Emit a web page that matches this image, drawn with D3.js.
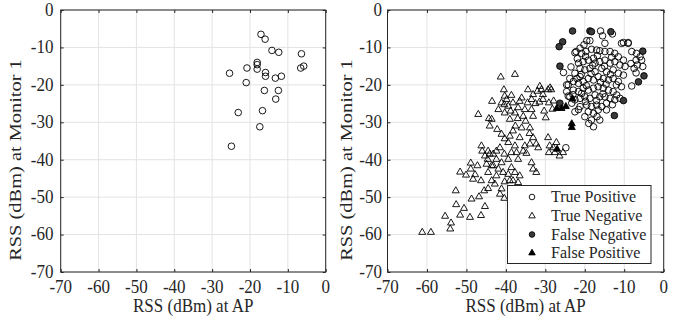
<!DOCTYPE html>
<html><head><meta charset="utf-8">
<script src="https://cdn.jsdelivr.net/npm/d3@7"></script>
<style>body{margin:0;background:#fff}svg{display:block}text{font-family:"Liberation Serif","Times New Roman",serif !important;fill:#262626}</style>
</head><body><svg id="c" width="689" height="320"></svg>
<script>
const ticks = [-70,-60,-50,-40,-30,-20,-10,0];
const tickLabels = ["-70","-60","-50","-40","-30","-20","-10","0"];
const xLabel = "RSS (dBm) at AP";
const yLabel = "RSS (dBm) at Monitor 1";
const legendLabels = ["True Positive","True Negative","False Negative","False Positive"];

// left panel: detected points
const leftPoints = [[-17.1,-6.5],[-16.0,-7.8],[-14.2,-10.8],[-12.4,-11.3],[-6.4,-11.7],[-18.1,-14.0],[-18.1,-14.6],[-18.1,-15.8],[-20.8,-15.5],[-25.4,-16.9],[-15.9,-16.7],[-15.9,-17.7],[-13.3,-18.2],[-11.7,-17.7],[-6.6,-15.5],[-5.8,-15.0],[-21.0,-19.4],[-16.2,-21.5],[-12.5,-21.5],[-13.2,-23.8],[-23.1,-27.4],[-16.7,-26.9],[-17.4,-31.2],[-24.9,-36.4]];

const trueNegative = [[-61.2,-59.4],[-59.0,-59.4],[-55.4,-55.1],[-53.9,-56.9],[-54.1,-58.5],[-52.7,-48.3],[-52.6,-52.0],[-51.6,-43.3],[-51.6,-54.8],[-50.6,-53.0],[-50.1,-44.1],[-48.9,-40.9],[-48.9,-42.5],[-48.7,-50.5],[-49.1,-55.4],[-48.3,-45.2],[-47.8,-44.0],[-47.2,-41.6],[-46.8,-49.9],[-46.3,-54.9],[-46.3,-45.6],[-45.3,-52.5],[-46.0,-37.7],[-45.3,-39.0],[-44.6,-39.9],[-44.1,-38.5],[-43.6,-41.6],[-43.2,-38.5],[-47.0,-27.9],[-44.3,-29.0],[-43.6,-29.2],[-44.1,-31.0],[-43.5,-24.4],[-42.2,-31.9],[-41.9,-26.6],[-41.3,-17.9],[-41.1,-24.8],[-40.5,-21.3],[-40.3,-23.0],[-40.4,-25.3],[-40.3,-27.5],[-39.8,-23.9],[-39.4,-25.7],[-38.6,-22.8],[-37.7,-17.2],[-38.2,-24.8],[-39.0,-29.2],[-37.7,-27.5],[-37.6,-31.0],[-36.9,-26.1],[-36.5,-24.4],[-36.0,-23.5],[-35.6,-28.4],[-35.2,-26.6],[-35.0,-29.7],[-34.5,-24.8],[-34.4,-21.3],[-33.5,-23.9],[-33.1,-22.6],[-33.5,-26.6],[-33.9,-31.5],[-33.1,-28.4],[-32.0,-21.7],[-31.4,-20.4],[-31.0,-21.3],[-30.6,-23.9],[-30.3,-27.0],[-29.9,-28.8],[-30.6,-22.6],[-28.5,-21.3],[-29.1,-24.8],[-29.3,-21.3],[-28.8,-20.8],[-32.5,-25.0],[-31.5,-24.6],[-37.0,-29.0],[-38.8,-27.0],[-36.0,-31.5],[-34.0,-33.0],[-27.9,-24.3],[-28.2,-26.5],
[-46.2,-36.3],[-44.5,-37.7],[-42.4,-37.7],[-41.1,-33.2],[-40.3,-34.4],[-41.5,-36.8],[-40.4,-38.5],[-39.4,-35.4],[-39.4,-39.9],[-39.0,-33.7],[-38.6,-38.1],[-38.6,-42.1],[-38.2,-32.3],[-37.7,-36.3],[-37.3,-38.1],[-36.9,-39.9],[-36.5,-34.1],[-41.1,-40.8],[-41.9,-42.5],[-42.4,-44.3],[-40.7,-43.4],[-40.3,-45.9],[-39.4,-43.9],[-39.0,-45.6],[-40.4,-50.3],[-41.1,-47.8],[-41.5,-49.2],[-42.8,-46.5],[-43.6,-45.6],[-44.5,-43.4],[-44.5,-47.7],[-45.5,-48.3],[-44.9,-41.2],[-43.2,-41.6],[-42.4,-39.9],[-37.7,-43.4],[-36.9,-46.1],[-38.2,-45.6],[-36.5,-44.3],[-35.6,-37.7],[-35.2,-36.3],[-34.8,-38.3],[-33.5,-40.8],[-33.1,-42.5],[-32.3,-43.4],[-33.9,-35.8],[-33.1,-34.1],[-32.3,-35.8],[-31.8,-36.8],[-29.3,-34.1],[-28.9,-36.3],[-29.1,-38.1],[-28.0,-36.8],[-27.6,-38.1],[-27.2,-35.4],[-26.4,-39.0],[-25.5,-38.1]];

const truePositive = [[-16.0,-5.6],[-15.5,-6.9],[-13.0,-6.4],[-14.9,-8.9],[-18.7,-8.2],[-19.5,-8.2],[-20.2,-9.3],[-21.2,-10.2],[-22.2,-11.1],[-20.8,-11.6],[-19.7,-11.1],[-18.3,-10.5],[-17.0,-10.7],[-16.2,-10.9],[-14.9,-11.1],[-13.6,-11.1],[-12.4,-11.6],[-11.5,-12.5],[-10.2,-13.4],[-10.7,-8.9],[-9.0,-8.9],[-8.1,-11.1],[-6.9,-11.6],[-6.0,-12.5],[-7.0,-13.4],[-5.6,-13.4],[-6.7,-14.7],[-7.5,-15.6],[-5.3,-15.1],[-8.1,-20.3],[-21.6,-14.2],[-20.4,-13.8],[-19.1,-13.4],[-17.8,-12.9],[-17.4,-14.2],[-16.2,-13.8],[-14.9,-13.4],[-13.6,-14.2],[-12.4,-13.8],[-11.1,-14.7],[-9.8,-15.1],[-21.2,-15.6],[-20.0,-16.0],[-18.7,-15.6],[-17.4,-16.5],[-15.7,-15.6],[-14.5,-16.5],[-12.8,-16.0],[-11.5,-16.9],[-10.2,-17.4],[-22.5,-16.9],[-21.2,-17.8],[-23.8,-18.3],[-22.9,-19.1],[-21.6,-19.6],[-20.4,-19.1],[-19.1,-18.3],[-17.8,-18.7],[-16.6,-17.8],[-15.3,-18.3],[-14.0,-18.7],[-12.8,-18.3],[-11.5,-19.1],[-10.7,-20.5],[-24.2,-20.0],[-22.9,-21.4],[-21.6,-21.8],[-20.4,-20.9],[-19.1,-21.4],[-17.8,-20.9],[-16.6,-20.5],[-15.3,-20.9],[-14.0,-21.4],[-12.8,-21.8],[-11.9,-22.7],[-11.1,-23.6],[-12.4,-24.0],[-13.6,-23.6],[-14.9,-23.2],[-16.2,-23.2],[-17.4,-22.7],[-18.7,-23.6],[-20.0,-23.2],[-21.2,-23.6],[-22.5,-24.0],[-23.3,-24.9],[-21.2,-25.8],[-19.5,-25.4],[-18.3,-25.8],[-17.0,-25.4],[-15.7,-25.8],[-14.5,-24.9],[-19.1,-27.2],[-17.8,-27.6],[-16.6,-26.7],[-20.0,-28.5],[-18.3,-29.4],[-17.8,-31.2],[-16.2,-29.4],[-14.5,-26.7],[-22.5,-27.2],[-24.6,-21.8],[-23.8,-23.2],[-20.8,-22.3],[-25.4,-16.7],[-24.6,-20.0],[-22.5,-11.4],[-24.8,-36.8],[-24.2,-23.0],[-10.2,-8.7],[-9.0,-8.7],
[-19.8,-12.4],[-16.8,-12.2],[-13.2,-12.6],[-18.0,-14.8],[-15.0,-15.0],[-20.9,-17.2],[-13.5,-17.2],[-18.4,-17.0],[-22.0,-18.3],[-16.0,-19.3],[-12.0,-20.0],[-19.6,-20.2],[-14.6,-19.8],[-23.0,-22.6],[-17.0,-24.2],[-19.8,-24.4],[-15.4,-22.4],[-13.0,-25.3],[-21.6,-26.6],[-16.9,-28.5],[-19.0,-30.3],[-23.5,-15.2],[-21.9,-13.0],[-8.3,-14.3],[-7.0,-16.8]];

const falseNegative = [[-23.1,-5.6],[-18.7,-5.6],[-18.3,-5.8],[-13.4,-5.8],[-25.6,-8.5],[-26.5,-9.8],[-26.3,-15.0],[-5.3,-11.0],[-5.0,-17.6],[-6.4,-19.2],[-10.2,-24.2],[-12.5,-28.2],[-26.3,-24.9]];

const falsePositive = [[-23.1,-23.8],[-23.3,-30.4],[-23.3,-31.4],[-27.1,-26.3],[-25.9,-26.3],[-24.8,-25.8],[-27.0,-37.2]];

const svg = d3.select("#c");
const y = d3.scaleLinear().domain([-70,0]).range([272,10]);
const xL = d3.scaleLinear().domain([-70,0]).range([60.7,325.7]);
const xR = d3.scaleLinear().domain([-70,0]).range([387.5,663.7]);
const FS = 17, LFS = 16, SY = 1.08;
const FF = "Liberation Serif";

function hText(g, x, yy, str, anchor, fs) {
  return g.append("text").attr("transform",`translate(${x},${yy}) scale(1,${SY})`)
    .attr("text-anchor",anchor).attr("font-size",fs).style("font-family",FF).attr("fill","#262626").text(str);
}
function panel(x) {
  const g = svg.append("g");
  const [x0,x1] = x.range(), [y1,y0] = y.range();
  g.append("g").selectAll("line").data(ticks).join("line")
    .attr("x1",d=>x(d)).attr("x2",d=>x(d)).attr("y1",y0).attr("y2",y1)
    .attr("stroke","#e3e3e3").attr("stroke-width",1);
  g.append("g").selectAll("line").data(ticks).join("line")
    .attr("y1",d=>y(d)).attr("y2",d=>y(d)).attr("x1",x0).attr("x2",x1)
    .attr("stroke","#e3e3e3").attr("stroke-width",1);
}
function frame(x, labelX, yTickRight) {
  const [x0,x1] = x.range(), [y1,y0] = y.range();
  const g = svg.append("g");
  const ax = (gen, tr) => {
    const a = g.append("g").attr("transform",tr).call(gen);
    a.select(".domain").remove();
    a.selectAll("line").attr("stroke","#262626");
    a.selectAll("text").remove();
  };
  ax(d3.axisBottom(x).tickValues(ticks).tickSizeInner(-3).tickSizeOuter(0), `translate(0,${y1})`);
  ax(d3.axisTop(x).tickValues(ticks).tickSizeInner(-3).tickSizeOuter(0), `translate(0,${y0})`);
  ax(d3.axisLeft(y).tickValues(ticks).tickSizeInner(-3).tickSizeOuter(0), `translate(${x0},0)`);
  ax(d3.axisRight(y).tickValues(ticks).tickSizeInner(-3).tickSizeOuter(0), `translate(${x1},0)`);
  g.append("rect").attr("x",x0).attr("y",y0).attr("width",x1-x0).attr("height",y1-y0)
    .attr("fill","none").attr("stroke","#262626").attr("stroke-width",1);
  ticks.forEach((t,i)=>{
    hText(g, x(t), 292.5, tickLabels[i], "middle", FS);
    hText(g, yTickRight, y(t)+5.8, tickLabels[i], "end", FS);
  });
  hText(g, (x0+x1)/2, 311.5, xLabel, "middle", FS);
  g.append("text").attr("transform",`translate(${labelX},160) rotate(-90) scale(1.2,1)`)
    .attr("text-anchor","middle").attr("font-size",17).style("font-family",FF).attr("fill","#333").text(yLabel);
}
function triPath(s){
  const h = s*0.866;
  return `M0,${-h*2/3}L${s/2},${h/3}L${-s/2},${h/3}Z`;
}

// left
panel(xL);
svg.append("g").selectAll("circle").data(leftPoints).join("circle")
  .attr("cx",d=>xL(d[0])).attr("cy",d=>y(d[1])).attr("r",3.3)
  .attr("fill","none").attr("stroke","#000").attr("stroke-width",0.9);
frame(xL, 21, 53.5);

// right
panel(xR);
const gR = svg.append("g");
gR.selectAll("path.tn").data(trueNegative).join("path").attr("class","tn")
  .attr("d",triPath(7)).attr("transform",d=>`translate(${xR(d[0])},${y(d[1])})`)
  .attr("fill","none").attr("stroke","#000").attr("stroke-width",0.9);
gR.selectAll("circle.tp").data(truePositive).join("circle").attr("class","tp")
  .attr("cx",d=>xR(d[0])).attr("cy",d=>y(d[1])).attr("r",3.3)
  .attr("fill","none").attr("stroke","#000").attr("stroke-width",0.9);
gR.selectAll("circle.fn").data(falseNegative).join("circle").attr("class","fn")
  .attr("cx",d=>xR(d[0])).attr("cy",d=>y(d[1])).attr("r",3.3)
  .attr("fill","#3a3a3a").attr("stroke","#000").attr("stroke-width",0.9);
gR.selectAll("path.fp").data(falsePositive).join("path").attr("class","fp")
  .attr("d",triPath(7)).attr("transform",d=>`translate(${xR(d[0])},${y(d[1])})`)
  .attr("fill","#000").attr("stroke","#000").attr("stroke-width",0.9);
frame(xR, 352, 382);

// legend
const lg = svg.append("g");
lg.append("rect").attr("x",507.5).attr("y",185.5).attr("width",143.5).attr("height",78)
  .attr("fill","#fff").attr("stroke","#262626").attr("stroke-width",1);
const rows = [197,216,234.5,253];
legendLabels.forEach((t,i)=>{
  const mx = 532, my = rows[i];
  if (i===0) lg.append("circle").attr("cx",mx).attr("cy",my).attr("r",2.8).attr("fill","none").attr("stroke","#000").attr("stroke-width",0.9);
  if (i===1) lg.append("path").attr("d",triPath(6.5)).attr("transform",`translate(${mx},${my})`).attr("fill","none").attr("stroke","#000").attr("stroke-width",0.9);
  if (i===2) lg.append("circle").attr("cx",mx).attr("cy",my).attr("r",2.8).attr("fill","#3a3a3a").attr("stroke","#000").attr("stroke-width",0.9);
  if (i===3) lg.append("path").attr("d",triPath(6.5)).attr("transform",`translate(${mx},${my})`).attr("fill","#000").attr("stroke","#000").attr("stroke-width",0.9);
  hText(lg, 551, my+5.3, t, "start", LFS);
});
</script></body></html>
